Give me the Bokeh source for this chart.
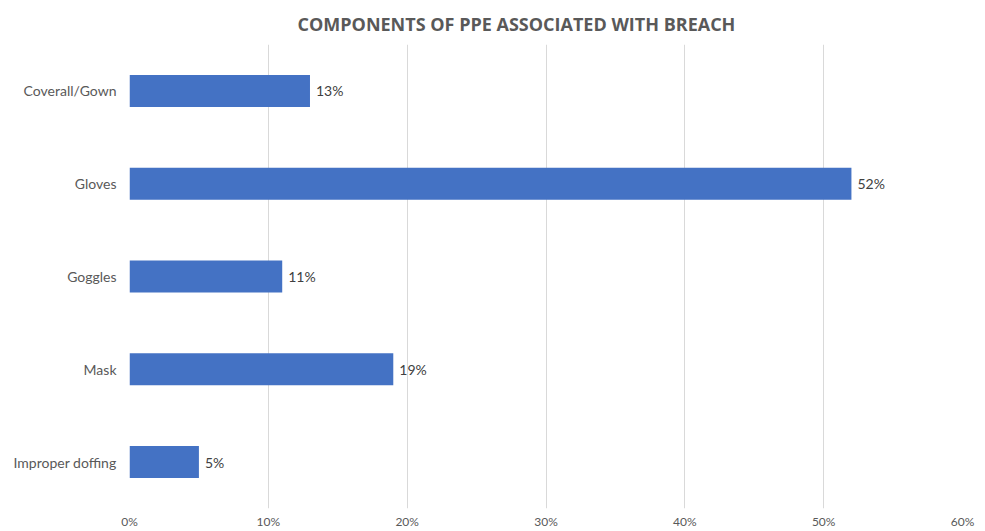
from bokeh.plotting import figure
from bokeh.models import FactorRange, Range1d, NumeralTickFormatter, FixedTicker, ColumnDataSource, Title
from bokeh.core.properties import value
from bokeh.embed import file_html
from bokeh.resources import INLINE

title_text = "COMPONENTS OF PPE ASSOCIATED WITH BREACH"
categories = ["Coverall/Gown", "Gloves", "Goggles", "Mask", "Improper doffing"]
values = [0.13, 0.52, 0.11, 0.19, 0.05]
labels = ["13%", "52%", "11%", "19%", "5%"]
x_ticks = [0, 0.1, 0.2, 0.3, 0.4, 0.5, 0.6]

src = ColumnDataSource(dict(cat=categories, val=values, lab=labels))

p = figure(width=985, height=531, output_backend="svg", toolbar_location=None,
           y_range=FactorRange(*list(reversed(categories)), range_padding=0),
           x_range=Range1d(0, 0.6))
p.min_border_left = 129
p.min_border_right = 23
p.min_border_top = 0
p.min_border_bottom = 0
p.outline_line_color = None
p.background_fill_color = "white"
p.border_fill_color = "white"

p.title = Title(text=title_text, align="left",
                text_font="Open Sans", text_font_size="18px", text_font_style="bold",
                text_color="#595959", offset=168, standoff=18)

p.hbar(y="cat", right="val", left=0, height=0.345, source=src,
       fill_color="#4472C4", line_color=None)
p.text(x="val", y="cat", text="lab", source=src, x_offset=6,
       text_baseline="middle", text_align="left",
       text_font=value("Lato"), text_font_size="14px", text_color="#404040")

p.xaxis.ticker = FixedTicker(ticks=x_ticks)
p.xaxis.formatter = NumeralTickFormatter(format="0%")
p.xaxis.axis_line_color = None
p.xaxis.major_tick_line_color = None
p.xaxis.minor_tick_line_color = None
p.xaxis.major_tick_out = 0
p.xaxis.minor_tick_out = 0
p.xaxis.major_label_text_font = "Lato"
p.xaxis.major_label_text_font_size = "12px"
p.xaxis.major_label_text_color = "#595959"
p.xaxis.major_label_standoff = 5

p.yaxis.axis_line_color = None
p.yaxis.major_tick_line_color = None
p.yaxis.minor_tick_line_color = None
p.yaxis.major_tick_out = 0
p.yaxis.minor_tick_out = 0
p.yaxis.major_label_text_font = "Lato"
p.yaxis.major_label_text_font_size = "14px"
p.yaxis.major_label_text_color = "#595959"
p.yaxis.major_label_standoff = 13

p.xgrid.grid_line_color = "#d9d9d9"
p.ygrid.grid_line_color = None

open("out.html", "w").write(file_html(p, INLINE))
